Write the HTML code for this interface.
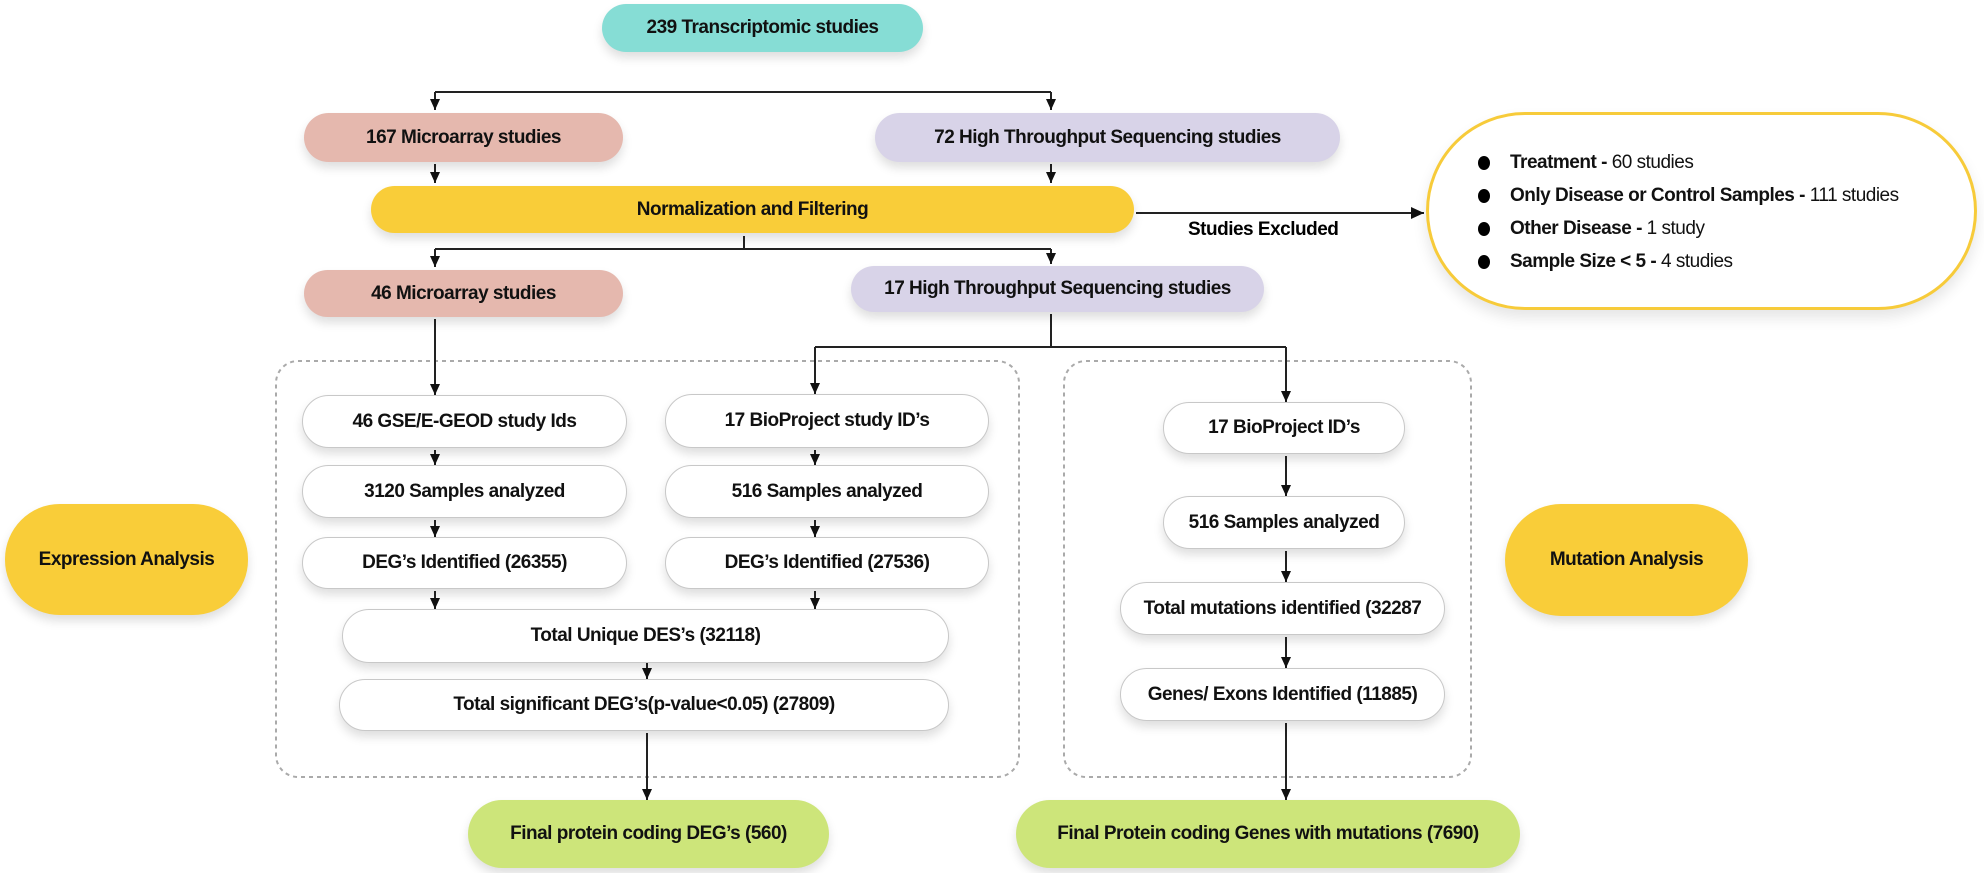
<!DOCTYPE html>
<html><head><meta charset="utf-8"><style>
body{margin:0;width:1984px;height:873px;background:#fff;position:relative;overflow:hidden;font-family:"Liberation Sans",Arial,sans-serif}
.b{position:absolute;display:flex;align-items:center;justify-content:center;font-weight:bold;font-size:19px;color:#111;box-sizing:border-box;border-radius:30px;box-shadow:0 6px 10px rgba(0,0,0,0.13);letter-spacing:-0.5px;white-space:nowrap}
.w{background:#fff;border:1.5px solid #c8c8c8}
.t{background:#86ddd5}.r{background:#e5b8ae}.p{background:#d8d3e8}.y{background:#f9cd39}.g{background:#cde57a}
svg{position:absolute;left:0;top:0}
.ex{position:absolute;left:1426px;top:112px;width:551px;height:198px;border:3px solid #f7cb3a;border-radius:99px;box-sizing:border-box;background:#fff;box-shadow:0 8px 14px rgba(0,0,0,0.1)}
.li{position:absolute;left:1510px;font-size:19px;color:#111;white-space:nowrap;letter-spacing:-0.5px}
.dot{position:absolute;left:1478px;width:12px;height:14px;border-radius:50%;background:#000}
</style></head><body>
<svg width="1984" height="873">
<defs><marker id="a" markerWidth="12" markerHeight="12" refX="11" refY="5" orient="auto" markerUnits="userSpaceOnUse"><path d="M0,0 L11,5 L0,10z" fill="#111"/></marker>
<marker id="ar" markerWidth="14" markerHeight="14" refX="13" refY="6" orient="auto" markerUnits="userSpaceOnUse"><path d="M0,0 L13,6 L0,12z" fill="#111"/></marker></defs>
<g stroke="#222" stroke-width="2" fill="none">
<rect x="276" y="361" width="743" height="416" rx="22" stroke="#aaa" stroke-dasharray="4,4"/>
<rect x="1064" y="361" width="407" height="416" rx="22" stroke="#aaa" stroke-dasharray="4,4"/>
<path d="M435,92 H1051"/>
<path d="M435,92 V110" marker-end="url(#a)"/><path d="M1051,92 V110" marker-end="url(#a)"/>
<path d="M435,164 V183" marker-end="url(#a)"/><path d="M1051,164 V183" marker-end="url(#a)"/>
<path d="M744,236 V249 H1051 M744,249 H435"/>
<path d="M435,249 V267" marker-end="url(#a)"/><path d="M1051,249 V264" marker-end="url(#a)"/>
<path d="M435,319 V395" marker-end="url(#a)"/>
<path d="M1051,314 V347 H815 M1051,347 H1286"/>
<path d="M815,347 V394" marker-end="url(#a)"/><path d="M1286,347 V402" marker-end="url(#a)"/>
<path d="M435,450 V465" marker-end="url(#a)"/><path d="M815,450 V465" marker-end="url(#a)"/>
<path d="M435,520 V537" marker-end="url(#a)"/><path d="M815,520 V537" marker-end="url(#a)"/>
<path d="M435,591 V609" marker-end="url(#a)"/><path d="M815,591 V609" marker-end="url(#a)"/>
<path d="M647,663 V679" marker-end="url(#a)"/>
<path d="M647,733 V800" marker-end="url(#a)"/>
<path d="M1286,456 V496" marker-end="url(#a)"/>
<path d="M1286,551 V582" marker-end="url(#a)"/>
<path d="M1286,637 V668" marker-end="url(#a)"/>
<path d="M1286,723 V800" marker-end="url(#a)"/>
<path d="M1136,213 H1424" marker-end="url(#ar)"/>
</g></svg>
<div class="b t" style="left:602px;top:4px;width:321px;height:48px;border-radius:24px">239 Transcriptomic studies</div>
<div class="b r" style="left:304px;top:113px;width:319px;height:49px">167 Microarray studies</div>
<div class="b p" style="left:875px;top:113px;width:465px;height:49px">72 High Throughput Sequencing studies</div>
<div class="b y" style="left:371px;top:186px;width:763px;height:47px;border-radius:24px">Normalization and Filtering</div>
<div style="position:absolute;left:1188px;top:219px;font-weight:bold;font-size:19px;letter-spacing:-0.5px">Studies Excluded</div>
<div class="b r" style="left:304px;top:270px;width:319px;height:47px">46 Microarray studies</div>
<div class="b p" style="left:851px;top:266px;width:413px;height:46px">17 High Throughput Sequencing studies</div>
<div class="b w" style="left:302px;top:395px;width:325px;height:53px">46 GSE/E-GEOD study Ids</div>
<div class="b w" style="left:665px;top:394px;width:324px;height:54px">17 BioProject study ID’s</div>
<div class="b w" style="left:302px;top:465px;width:325px;height:53px">3120 Samples analyzed</div>
<div class="b w" style="left:665px;top:465px;width:324px;height:53px">516 Samples analyzed</div>
<div class="b w" style="left:302px;top:537px;width:325px;height:52px">DEG’s Identified (26355)</div>
<div class="b w" style="left:665px;top:537px;width:324px;height:52px">DEG’s Identified (27536)</div>
<div class="b w" style="left:342px;top:609px;width:607px;height:54px">Total Unique DES’s (32118)</div>
<div class="b w" style="left:339px;top:679px;width:610px;height:52px">Total significant DEG’s(p-value&lt;0.05) (27809)</div>
<div class="b g" style="left:468px;top:800px;width:361px;height:68px;border-radius:34px">Final protein coding DEG’s (560)</div>
<div class="b y" style="left:5px;top:504px;width:243px;height:111px;border-radius:55px">Expression Analysis</div>
<div class="b w" style="left:1163px;top:402px;width:242px;height:52px">17 BioProject ID’s</div>
<div class="b w" style="left:1163px;top:496px;width:242px;height:53px">516 Samples analyzed</div>
<div class="b w" style="left:1120px;top:582px;width:325px;height:53px">Total mutations identified (32287</div>
<div class="b w" style="left:1120px;top:668px;width:325px;height:53px">Genes/ Exons Identified (11885)</div>
<div class="b g" style="left:1016px;top:800px;width:504px;height:68px;border-radius:34px">Final Protein coding Genes with mutations (7690)</div>
<div class="b y" style="left:1505px;top:504px;width:243px;height:112px;border-radius:56px">Mutation Analysis</div>
<div class="ex"></div>
<div class="dot" style="top:156px"></div><div class="li" style="top:152px"><b>Treatment -</b> 60 studies</div>
<div class="dot" style="top:189px"></div><div class="li" style="top:185px"><b>Only Disease or Control Samples -</b> 111 studies</div>
<div class="dot" style="top:222px"></div><div class="li" style="top:218px"><b>Other Disease -</b> 1 study</div>
<div class="dot" style="top:255px"></div><div class="li" style="top:251px"><b>Sample Size &lt; 5 -</b> 4 studies</div>
</body></html>
